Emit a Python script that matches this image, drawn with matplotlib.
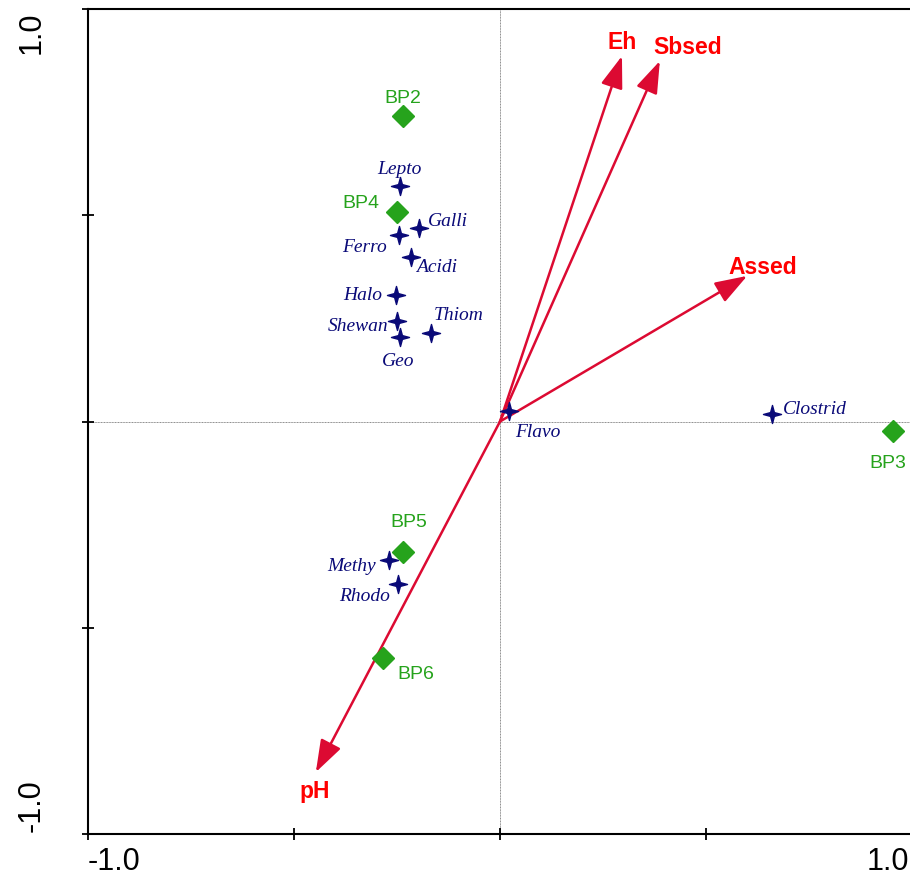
import matplotlib
matplotlib.use("Agg")
import matplotlib.pyplot as plt
from matplotlib.path import Path
import numpy as np

# Species (navy stars)
species = ["Lepto", "Galli", "Ferro", "Acidi", "Halo", "Shewan", "Geo", "Thiom",
           "Flavo", "Clostrid", "Methy", "Rhodo"]
species_x = [-0.243, -0.197, -0.245, -0.216, -0.252, -0.250, -0.243, -0.167,
             0.022, 0.660, -0.269, -0.248]
species_y = [0.571, 0.469, 0.452, 0.399, 0.307, 0.244, 0.205, 0.215,
             0.025, 0.018, -0.336, -0.394]

# Samples (green diamonds)
samples = ["BP2", "BP4", "BP3", "BP5", "BP6"]
samples_x = [-0.235, -0.250, 0.954, -0.235, -0.284]
samples_y = [0.741, 0.508, -0.023, -0.316, -0.573]

# Environmental variables (arrows)
env = ["Eh", "Sbsed", "Assed", "pH"]
env_x = [0.296, 0.388, 0.600, -0.447]
env_y = [0.886, 0.874, 0.353, -0.850]

# label offsets in pixels (dx, dy) relative to point
sp_off = {"Lepto": (0, 17), "Galli": (29, 8), "Ferro": (-35, -11), "Acidi": (26, -10),
          "Halo": (-33, 0), "Shewan": (-39, -5), "Geo": (-2, -24), "Thiom": (27, 18),
          "Flavo": (29, -20), "Clostrid": (43, 6), "Methy": (-38, -5), "Rhodo": (-33, -11)}
sm_off = {"BP2": (0, 18), "BP4": (-36, 9), "BP3": (-5, -32), "BP5": (6, 30), "BP6": (33, -16)}
env_off = {"Eh": (0, 15), "Sbsed": (28, 14), "Assed": (16, 9), "pH": (-1, -18)}

W, H = 910, 879
fig = plt.figure(figsize=(W / 100, H / 100), dpi=100)
x0, x1 = 88, 912
y0, y1 = 835, 10
ax = fig.add_axes([x0 / W, (H - y0) / H, (x1 - x0) / W, (y0 - y1) / H])
ax.set_xlim(-1, 1)
ax.set_ylim(-1, 1)
ax.spines["right"].set_visible(False)
for s in ["left", "bottom", "top"]:
    ax.spines[s].set_linewidth(1.5)
ax.set_xticks([-1, -0.5, 0, 0.5, 1])
ax.set_yticks([-1, -0.5, 0, 0.5, 1])
ax.set_xticklabels([])
ax.set_yticklabels([])
ax.tick_params(direction="inout", length=8, width=1.3, colors="black")

ax.axhline(0, color="#888888", lw=0.7, ls=(0, (1, 0.6)), zorder=0)
ax.axvline(0, color="#888888", lw=0.7, ls=(0, (1, 0.6)), zorder=0)

# tick labels as text
lab_font = dict(family="Liberation Sans", fontsize=22, color="black")
fig.text(x0 / W, 1 - 862 / H, "-1.0", ha="left", va="center", **lab_font)
fig.text(909 / W, 1 - 862 / H, "1.0", ha="right", va="center", **lab_font)
fig.text(32 / W, 1 - 12 / H, "1.0", ha="center", va="top", rotation=90, **lab_font)
fig.text(32 / W, 1 - 832 / H, "-1.0", ha="center", va="bottom", rotation=90, **lab_font)

# arrows
arrow_col = "#DC0A32"
for name, ex, ey in zip(env, env_x, env_y):
    ax.annotate("", xy=(ex, ey), xytext=(0, 0),
                arrowprops=dict(arrowstyle="-|>,head_length=1.1,head_width=0.38",
                                color=arrow_col, lw=1.8, mutation_scale=18,
                                shrinkA=0, shrinkB=0), zorder=3)
    dx, dy = env_off[name]
    ax.annotate(name, xy=(ex, ey), xytext=(dx * 0.72, dy * 0.72), textcoords="offset points",
                ha="center", va="center", color="#FF0000", fontweight="bold",
                fontsize=16.5, family="Liberation Sans", zorder=5)

# star marker
verts = []
for i in range(4):
    a = np.pi / 2 * i + np.pi / 2
    verts.append((np.cos(a), np.sin(a)))
    b = a + np.pi / 4
    verts.append((0.3 * np.cos(b), 0.3 * np.sin(b)))
verts.append(verts[0])
codes = [Path.MOVETO] + [Path.LINETO] * (len(verts) - 2) + [Path.CLOSEPOLY]
star = Path(verts, codes)

navy = "#0A0A78"
ax.plot(species_x, species_y, ls="none", marker=star, ms=13, color=navy, mec=navy, zorder=4)
for name, sx, sy in zip(species, species_x, species_y):
    dx, dy = sp_off[name]
    ax.annotate(name, xy=(sx, sy), xytext=(dx * 0.72, dy * 0.72), textcoords="offset points",
                ha="center", va="center", color=navy, style="italic",
                fontsize=14, family="Liberation Serif", zorder=5)

green = "#26A31C"
ax.plot(samples_x, samples_y, ls="none", marker="D", ms=11, color=green, mec=green, zorder=4)
for name, sx, sy in zip(samples, samples_x, samples_y):
    dx, dy = sm_off[name]
    ax.annotate(name, xy=(sx, sy), xytext=(dx * 0.72, dy * 0.72), textcoords="offset points",
                ha="center", va="center", color=green,
                fontsize=14, family="Liberation Sans", zorder=5)

fig.savefig("out.png", dpi=100)
